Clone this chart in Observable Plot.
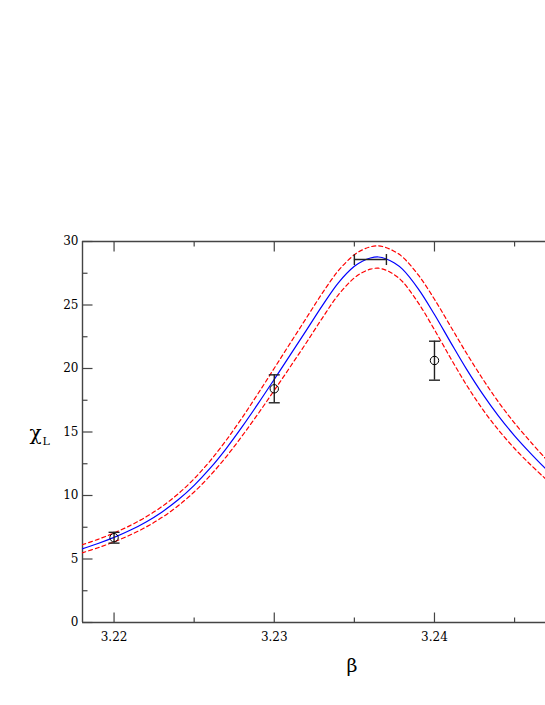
<!DOCTYPE html>
<html><head><meta charset="utf-8">
<script src="https://cdn.jsdelivr.net/npm/d3@7"></script>
<script src="https://cdn.jsdelivr.net/npm/@observablehq/plot@0.6"></script>
<style>
html,body{margin:0;padding:0;background:#fff;overflow:hidden}
</style>
</head><body><div id="chart"></div>
<script>
// fitted curve (blue) and its error band (red dashed)
const beta  = [3.218, 3.219, 3.220, 3.221, 3.222, 3.223, 3.224, 3.225, 3.226, 3.227, 3.228, 3.229, 3.230, 3.231, 3.232, 3.233, 3.234, 3.235, 3.2355, 3.236, 3.2365, 3.237, 3.2375, 3.238, 3.239, 3.240, 3.241, 3.242, 3.243, 3.244, 3.245, 3.246, 3.2469];
const chi   = [5.80, 6.22, 6.70, 7.26, 7.92, 8.71, 9.66, 10.80, 12.15, 13.70, 15.42, 17.25, 19.15, 21.07, 23.00, 24.95, 26.75, 28.05, 28.45, 28.70, 28.78, 28.62, 28.30, 27.82, 26.25, 24.25, 22.08, 19.95, 18.00, 16.25, 14.70, 13.32, 12.15];
const chiHi = [6.12, 6.55, 7.05, 7.63, 8.32, 9.14, 10.13, 11.32, 12.73, 14.35, 16.14, 18.05, 20.02, 22.00, 23.97, 25.93, 27.70, 28.96, 29.34, 29.58, 29.66, 29.51, 29.22, 28.79, 27.35, 25.45, 23.33, 21.20, 19.20, 17.35, 15.70, 14.22, 12.95];
const chiLo = [5.48, 5.89, 6.35, 6.89, 7.52, 8.28, 9.19, 10.28, 11.57, 13.05, 14.70, 16.45, 18.28, 20.14, 22.03, 23.97, 25.80, 27.14, 27.56, 27.82, 27.90, 27.73, 27.38, 26.85, 25.15, 23.05, 20.83, 18.70, 16.80, 15.15, 13.70, 12.42, 11.35];

// measured points with vertical error bars
const ptBeta = [3.22, 3.23, 3.24];
const ptChi  = [6.68, 18.4, 20.63];
const ptLo   = [6.25, 17.3, 19.08];
const ptHi   = [7.1, 19.5, 22.15];

// peak position with horizontal error bar
const peakChi = [28.58];
const peakLo  = [3.235];
const peakHi  = [3.237];

// axes
const xDomain = [3.21803, 3.24693];
const yDomain = [0, 30];
const xMajor = [3.22, 3.23, 3.24];
const xMinor = [3.225, 3.235, 3.245];
const yMajor = [0, 5, 10, 15, 20, 25, 30];
const yMinor = [2.5, 7.5, 12.5, 17.5, 22.5, 27.5];

const curve = beta.map((b, i) => ({beta: b, chi: chi[i], hi: chiHi[i], lo: chiLo[i]}));
const pts = ptBeta.map((b, i) => ({beta: b, chi: ptChi[i], lo: ptLo[i], hi: ptHi[i]}));
const peak = peakChi.map((c, i) => ({chi: c, lo: peakLo[i], hi: peakHi[i]}));

const sym = (fn) => ({draw(ctx, size) { const r = Math.sqrt(size / Math.PI); fn(ctx, r); }});
const capH = sym((c, r) => { c.moveTo(-r, 0); c.lineTo(r, 0); });
const capV = sym((c, r) => { c.moveTo(0, -r); c.lineTo(0, r); });
const tickUp = sym((c, r) => { c.moveTo(0, 0); c.lineTo(0, -r); });
const tickDown = sym((c, r) => { c.moveTo(0, 0); c.lineTo(0, r); });
const tickRight = sym((c, r) => { c.moveTo(0, 0); c.lineTo(r, 0); });

const axisColor = "#444";
const barColor = "#222";
const serif = "DejaVu Serif, serif";

const chart = Plot.plot({
  width: 545,
  height: 705,
  marginLeft: 82,
  marginRight: 0,
  marginTop: 241,
  marginBottom: 83,
  style: {fontSize: "12px", background: "#fff", color: "#000"},
  x: {domain: xDomain},
  y: {domain: yDomain},
  marks: [
    Plot.ruleX([xDomain[0]], {stroke: axisColor, strokeWidth: 1.4}),
    Plot.ruleY([yDomain[0], yDomain[1]], {stroke: axisColor, strokeWidth: 1.4}),
    Plot.dot(xMajor, {x: d => d, y: yDomain[0], symbol: tickUp, r: 10, stroke: axisColor, strokeWidth: 1.2, fill: "none"}),
    Plot.dot(xMinor, {x: d => d, y: yDomain[0], symbol: tickUp, r: 5, stroke: axisColor, strokeWidth: 1.2, fill: "none"}),
    Plot.dot(xMajor, {x: d => d, y: yDomain[1], symbol: tickDown, r: 10, stroke: axisColor, strokeWidth: 1.2, fill: "none"}),
    Plot.dot(xMinor, {x: d => d, y: yDomain[1], symbol: tickDown, r: 5, stroke: axisColor, strokeWidth: 1.2, fill: "none"}),
    Plot.dot(yMajor, {x: xDomain[0], y: d => d, symbol: tickRight, r: 10, stroke: axisColor, strokeWidth: 1.2, fill: "none"}),
    Plot.dot(yMinor, {x: xDomain[0], y: d => d, symbol: tickRight, r: 5, stroke: axisColor, strokeWidth: 1.2, fill: "none"}),
    Plot.axisX({ticks: xMajor, anchor: "bottom", tickSize: 0, tickPadding: 10, tickFormat: d => d.toFixed(2), label: null, fontSize: 12}),
    Plot.axisY({ticks: yMajor, anchor: "left", tickSize: 0, tickPadding: 4, tickFormat: d => String(d), label: null, fontSize: 12}),
    Plot.line(curve, {x: "beta", y: "hi", stroke: "#ff0000", strokeWidth: 1.2, strokeDasharray: "4,3", curve: "catmull-rom", clip: true}),
    Plot.line(curve, {x: "beta", y: "lo", stroke: "#ff0000", strokeWidth: 1.2, strokeDasharray: "4,3", curve: "catmull-rom", clip: true}),
    Plot.line(curve, {x: "beta", y: "chi", stroke: "#0000ff", strokeWidth: 1.2, curve: "catmull-rom", clip: true}),
    Plot.ruleX(pts, {x: "beta", y1: "lo", y2: "hi", stroke: barColor, strokeWidth: 1.4}),
    Plot.dot(pts, {x: "beta", y: "lo", symbol: capH, r: 5.5, stroke: barColor, strokeWidth: 1.4, fill: "none"}),
    Plot.dot(pts, {x: "beta", y: "hi", symbol: capH, r: 5.5, stroke: barColor, strokeWidth: 1.4, fill: "none"}),
    Plot.dot(pts, {x: "beta", y: "chi", r: 4.2, stroke: "#000", strokeWidth: 1, fill: "none"}),
    Plot.ruleY(peak, {y: "chi", x1: "lo", x2: "hi", stroke: barColor, strokeWidth: 1.4}),
    Plot.dot(peak, {x: "lo", y: "chi", symbol: capV, r: 5.5, stroke: barColor, strokeWidth: 1.4, fill: "none"}),
    Plot.dot(peak, {x: "hi", y: "chi", symbol: capV, r: 5.5, stroke: barColor, strokeWidth: 1.4, fill: "none"}),
    Plot.text(["β"], {text: d => d, frameAnchor: "bottom", dx: 38, dy: 36, lineAnchor: "top", fontSize: 19}),
    Plot.text(["χ"], {text: d => d, frameAnchor: "left", dx: -47, dy: 2, textAnchor: "middle", fontSize: 20}),
    Plot.text(["L"], {text: d => d, frameAnchor: "left", dx: -40, dy: 9, textAnchor: "start", fontSize: 11})
  ]
});
d3.select(chart).attr("font-family", serif).style("font-family", serif);
d3.select(chart).selectAll("text, g").attr("font-family", serif).style("font-family", serif);
document.getElementById("chart").appendChild(chart);
</script>
</body></html>
